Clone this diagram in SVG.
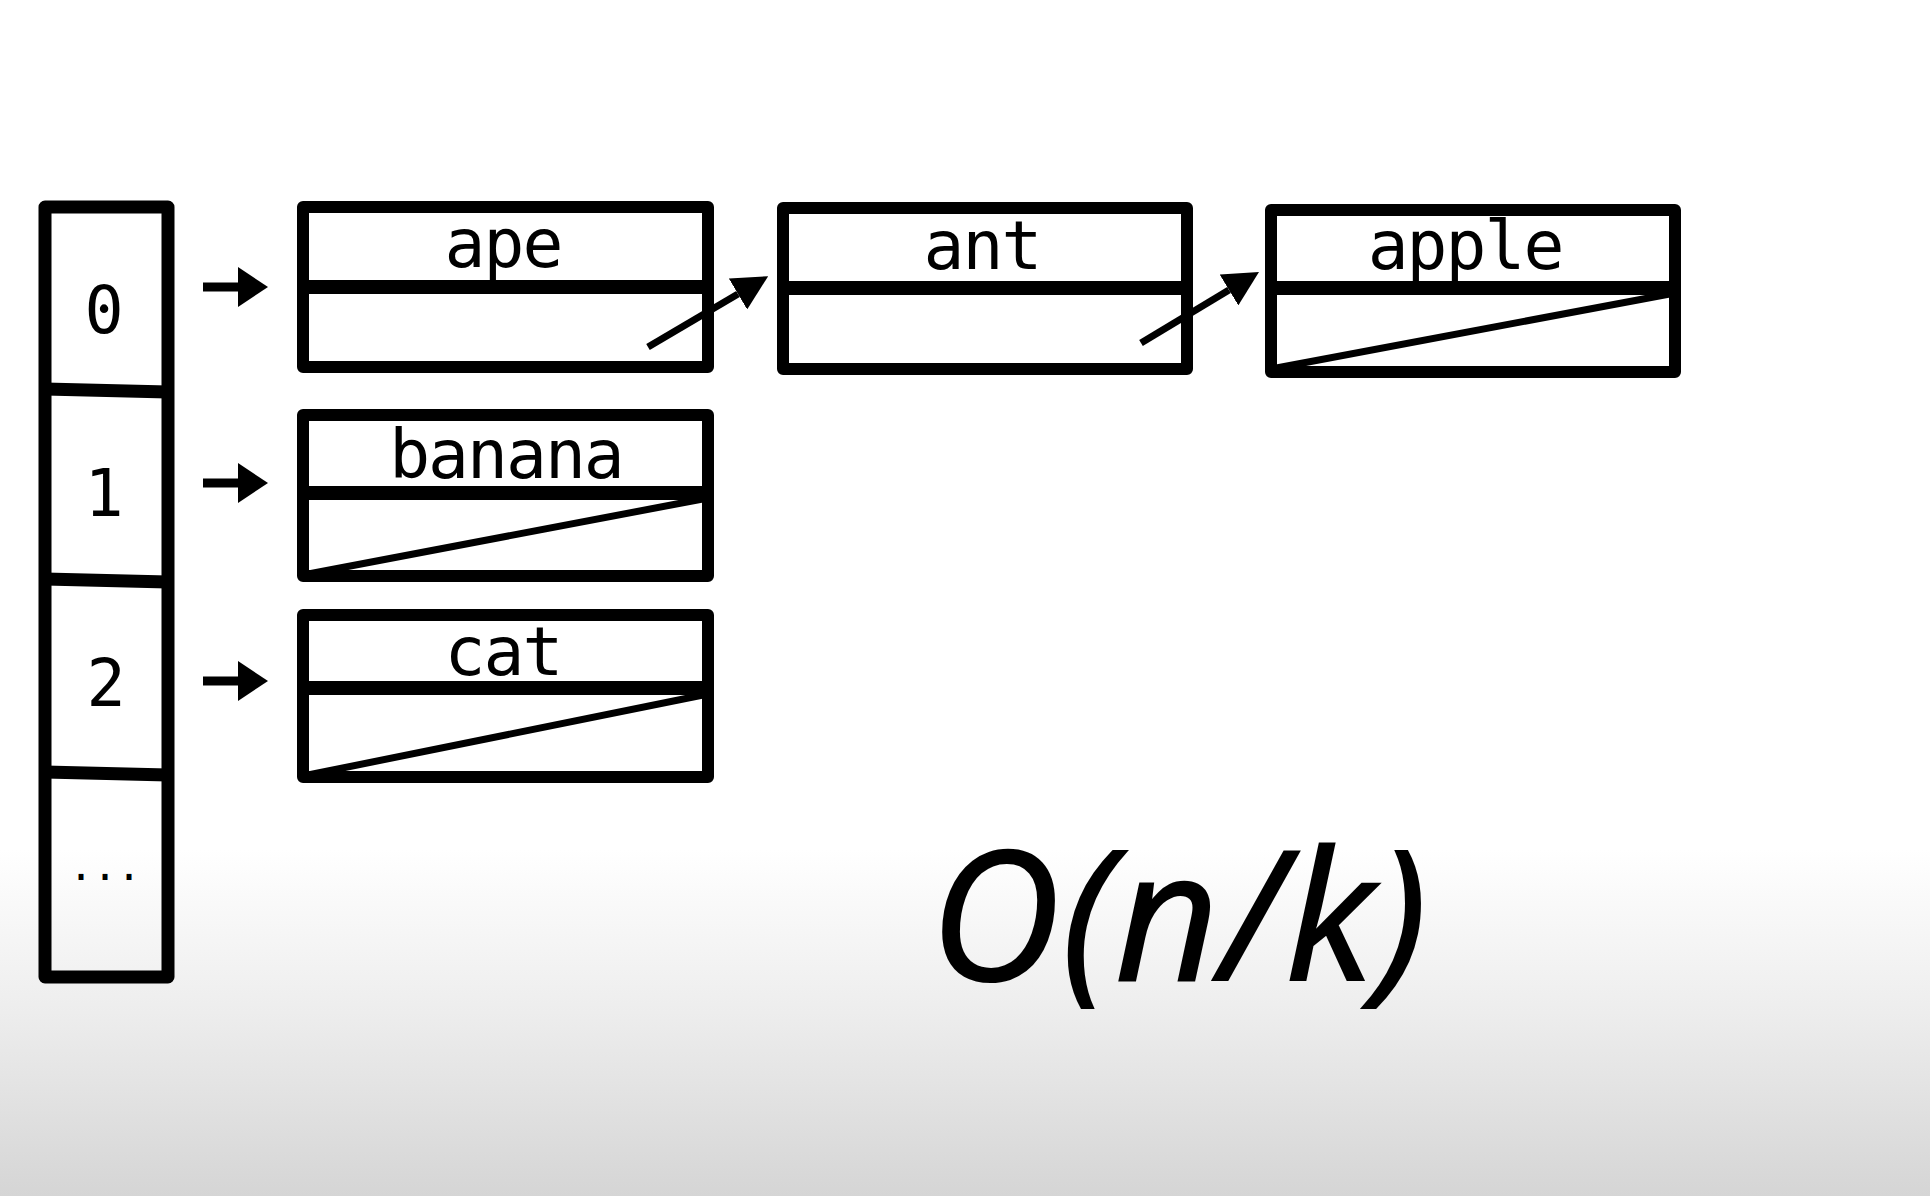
<svg xmlns="http://www.w3.org/2000/svg" width="1930" height="1196" viewBox="0 0 1930 1196">
<defs>
<linearGradient id="bg" x1="0" y1="0" x2="0" y2="1196" gradientUnits="userSpaceOnUse">
<stop offset="0" stop-color="#ffffff"/>
<stop offset="0.71" stop-color="#ffffff"/>
<stop offset="0.84" stop-color="#eeeeee"/>
<stop offset="1" stop-color="#d5d5d5"/>
</linearGradient>
<marker id="headH" markerUnits="userSpaceOnUse" viewBox="0 0 30 40" refX="0" refY="20" markerWidth="30" markerHeight="40" orient="auto">
<path d="M0,0 L30,20 L0,40 z" fill="#000"/>
</marker>
<marker id="headD" markerUnits="userSpaceOnUse" viewBox="0 0 35 36" refX="0" refY="18" markerWidth="35" markerHeight="36" orient="auto">
<path d="M0,0 L35,18 L0,36 z" fill="#000"/>
</marker>
<style>
.box{fill:none;stroke:#000;stroke-width:12;stroke-linejoin:round}
.arr{fill:none;stroke:#000;stroke-width:13;stroke-linejoin:round}
.sep{fill:#000;stroke:none}
.adiv{stroke:#000;stroke-width:13}
.null{stroke:#000;stroke-width:7}
.word{font-family:"DejaVu Sans Mono","Liberation Mono",monospace;font-size:68px;letter-spacing:-2px;text-anchor:middle;fill:#000}
.idx{font-family:"DejaVu Sans Mono","Liberation Mono",monospace;font-size:65px;text-anchor:middle;fill:#000}
.link{fill:none;stroke:#000;stroke-width:7;marker-end:url(#headD)}
.ptr{fill:none;stroke:#000;stroke-width:9;marker-end:url(#headH)}
.big{font-family:"Open Sans","Noto Sans",sans-serif;font-style:italic;font-size:180px;letter-spacing:2px;fill:#000;stroke:#000;stroke-width:2}
</style>
</defs>
<rect x="0" y="0" width="1930" height="1196" fill="url(#bg)"/>

<g id="array">
<rect class="arr" x="45" y="207" width="123" height="770"/>
<line class="adiv" x1="45" y1="389" x2="168" y2="392"/>
<line class="adiv" x1="45" y1="579" x2="168" y2="582"/>
<line class="adiv" x1="45" y1="772" x2="168" y2="775"/>
<text class="idx" x="104" y="333">0</text>
<text class="idx" x="104" y="516">1</text>
<text class="idx" x="106" y="706">2</text>
<text class="idx" x="105" y="880" style="font-size:40px">...</text>
</g>

<g id="node-ape">
<text class="word" x="503" y="267">ape</text>
<rect class="box" x="303" y="207" width="405" height="160"/>
<rect class="sep" x="303" y="280" width="405" height="14"/>
</g>

<g id="node-ant">
<text class="word" x="982" y="269">ant</text>
<rect class="box" x="783" y="208" width="404" height="161"/>
<rect class="sep" x="783" y="281" width="404" height="14"/>
</g>

<g id="node-apple">
<text class="word" x="1465" y="269">apple</text>
<rect class="box" x="1271" y="210" width="404" height="162"/>
<rect class="sep" x="1271" y="281" width="404" height="14"/>
<line class="null" x1="1271" y1="369" x2="1675" y2="293"/>
</g>

<g id="node-banana">
<text class="word" x="506" y="478">banana</text>
<rect class="box" x="303" y="415" width="405" height="161"/>
<rect class="sep" x="303" y="486" width="405" height="14"/>
<line class="null" x1="303" y1="575" x2="708" y2="498"/>
</g>

<g id="node-cat">
<text class="word" x="503" y="675">cat</text>
<rect class="box" x="303" y="615" width="405" height="162"/>
<rect class="sep" x="303" y="681" width="405" height="14"/>
<line class="null" x1="303" y1="776" x2="708" y2="694"/>
</g>

<g id="connectors">
<line class="ptr" x1="203" y1="287" x2="238" y2="287"/>
<line class="ptr" x1="203" y1="483" x2="238" y2="483"/>
<line class="ptr" x1="203" y1="681" x2="238" y2="681"/>
<line class="link" x1="648" y1="347" x2="738" y2="294"/>
<line class="link" x1="1141" y1="343" x2="1229" y2="290"/>
</g>

<g id="complexity">
<text class="big" x="930" y="980">O(n/k)</text>
</g>
</svg>
